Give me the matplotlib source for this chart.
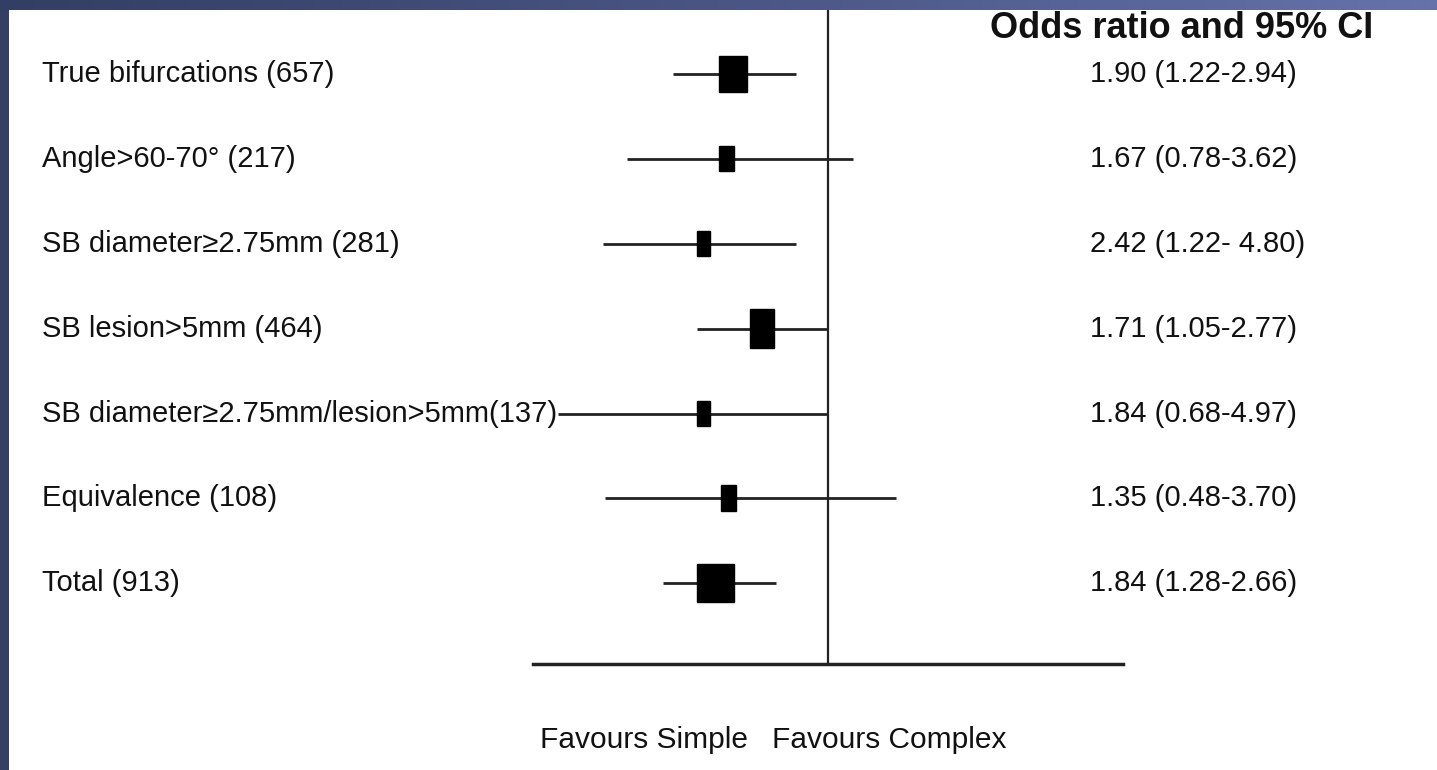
import numpy as np
import matplotlib
matplotlib.use("Agg")
import matplotlib.pyplot as plt
from matplotlib.patches import Rectangle
from matplotlib.colors import LinearSegmentedColormap
from matplotlib.transforms import blended_transform_factory

plt.rcParams['font.family'] = ['Liberation Sans', 'DejaVu Sans']

# subgroups (n patients)
labels = ['True bifurcations (657)', 'Angle>60-70\u00b0 (217)',
          'SB diameter\u22652.75mm (281)', 'SB lesion>5mm (464)',
          'SB diameter\u22652.75mm/lesion>5mm(137)', 'Equivalence (108)',
          'Total (913)']
or_text = ['1.90 (1.22-2.94)', '1.67 (0.78-3.62)', '2.42 (1.22- 4.80)',
           '1.71 (1.05-2.77)', '1.84 (0.68-4.97)', '1.35 (0.48-3.70)',
           '1.84 (1.28-2.66)']

# positions as drawn on the figure's own scale (reference line at 0)
point = [-0.322, -0.344, -0.422, -0.224, -0.422, -0.337, -0.381]
ci_lo = [-0.525, -0.681, -0.763, -0.444, -0.915, -0.756, -0.559]
ci_hi = [-0.108, 0.085, -0.108, 0.000, 0.000, 0.231, -0.176]

# box size in pixels (w, h) ~ study weight
box_px = [(28, 36), (15, 25), (13, 25), (24, 39), (13, 25), (15, 26), (37, 38)]

W, H = 1437, 770
fig = plt.figure(figsize=(W / 100, H / 100), dpi=100)
fig.patch.set_facecolor('white')

# slide frame: dark left band + gradient top band
ax_left = fig.add_axes([0, 0, 9 / W, 1])
ax_left.set_facecolor('#334063')
ax_left.set_axis_off()
ax_left.add_patch(Rectangle((0, 0), 1, 1, color='#334063', transform=ax_left.transAxes))

ax_top = fig.add_axes([0, 1 - 10 / H, 1, 10 / H])
cmap = LinearSegmentedColormap.from_list('frame', ['#323e63', '#4a5584', '#6672aa'])
ax_top.imshow(np.linspace(0, 1, 256)[None, :], aspect='auto', cmap=cmap,
              extent=[0, 1, 0, 1])
ax_top.set_axis_off()

# forest plot area
left_px, right_px, top_px, bot_px = 533, 1123, 10, 664
ax = fig.add_axes([left_px / W, 1 - bot_px / H, (right_px - left_px) / W, (bot_px - top_px) / H])
ax.set_xlim(-1, 1)
row0, step = 73.8, 84.93
ax.set_ylim((bot_px - row0) / step, (top_px - row0) / step)
ax.patch.set_alpha(0)
for s in ['top', 'left', 'right']:
    ax.spines[s].set_visible(False)
ax.spines['bottom'].set_linewidth(2.5)
ax.spines['bottom'].set_color('#222222')
ax.set_xticks([])
ax.set_yticks([])

ax.axvline(0, color='#222222', lw=1.6, zorder=1)

rows = np.arange(len(labels))
ax.hlines(rows, ci_lo, ci_hi, color='#222222', lw=2, zorder=2)

x_per_px = 2 / (right_px - left_px)
y_per_px = 1 / step
for r, p, (bw, bh) in zip(rows, point, box_px):
    w, h = bw * x_per_px, bh * y_per_px
    ax.add_patch(Rectangle((p - w / 2, r - h / 2), w, h, color='black', zorder=3))

# text columns
tr_lab = blended_transform_factory(fig.transFigure, ax.transData)
for r, lab, ort in zip(rows, labels, or_text):
    ax.text(42 / W, r, lab, transform=tr_lab, fontsize=21, ha='left', va='center',
            color='#111111', zorder=1)
    ax.text(1090 / W, r, ort, transform=tr_lab, fontsize=21, ha='left', va='center',
            color='#111111')

fig.text(990 / W, 1 - 28 / H, 'Odds ratio and 95% CI', fontsize=26, fontweight='bold',
         ha='left', va='center', color='#111111')
fig.text(540 / W, 1 - 740 / H, 'Favours Simple', fontsize=21.5, ha='left', va='center',
         color='#111111')
fig.text(772 / W, 1 - 740 / H, 'Favours Complex', fontsize=21.5, ha='left', va='center',
         color='#111111')

fig.savefig('out.png', dpi=100, facecolor='white')
